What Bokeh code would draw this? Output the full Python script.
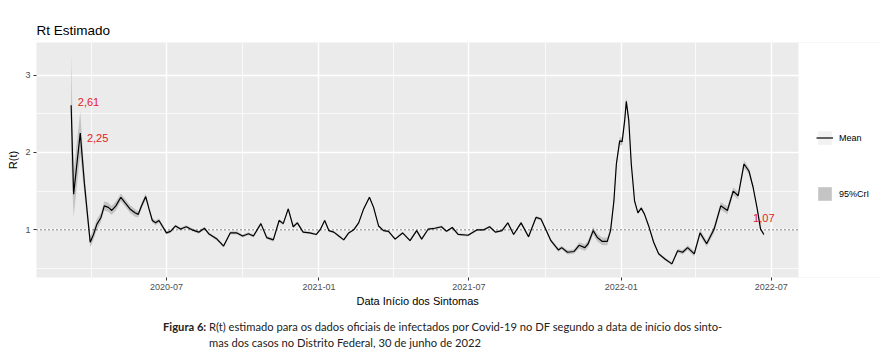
import pandas as pd
from bokeh.plotting import figure
from bokeh.layouts import column
from bokeh.models import (ColumnDataSource, Range1d, FixedTicker, DatetimeTickFormatter,
                          Legend, LegendItem, Div, BoxAnnotation, Title)
from bokeh.embed import file_html
from bokeh.resources import INLINE
from bokeh.core.properties import value

# ---------------- data ----------------
dates = [
    "2020-03-08", "2020-03-11", "2020-03-19", "2020-03-24", "2020-03-31", "2020-04-04",
    "2020-04-08", "2020-04-13", "2020-04-17", "2020-04-22", "2020-04-26", "2020-05-01",
    "2020-05-07", "2020-05-12", "2020-05-18", "2020-05-24", "2020-05-28", "2020-06-01",
    "2020-06-06", "2020-06-10", "2020-06-14", "2020-06-18", "2020-06-22", "2020-06-26",
    "2020-07-01", "2020-07-06", "2020-07-12", "2020-07-18", "2020-07-25", "2020-08-01",
    "2020-08-09", "2020-08-16", "2020-08-21", "2020-08-31", "2020-09-08", "2020-09-16",
    "2020-09-24", "2020-10-01", "2020-10-08", "2020-10-14", "2020-10-23", "2020-10-30",
    "2020-11-07", "2020-11-14", "2020-11-19", "2020-11-25", "2020-12-01", "2020-12-06",
    "2020-12-13", "2020-12-21", "2020-12-29", "2021-01-03", "2021-01-08", "2021-01-13",
    "2021-01-19", "2021-01-25", "2021-01-31", "2021-02-06", "2021-02-12", "2021-02-18",
    "2021-02-24", "2021-03-03", "2021-03-08", "2021-03-14", "2021-03-20", "2021-03-26",
    "2021-04-03", "2021-04-12", "2021-04-21", "2021-04-29", "2021-05-05", "2021-05-13",
    "2021-05-21", "2021-05-29", "2021-06-04", "2021-06-11", "2021-06-18", "2021-06-30",
    "2021-07-11", "2021-07-19", "2021-07-26", "2021-08-02", "2021-08-10", "2021-08-17",
    "2021-08-24", "2021-09-02", "2021-09-11", "2021-09-20", "2021-09-26", "2021-10-02",
    "2021-10-08", "2021-10-17", "2021-10-21", "2021-10-28", "2021-11-05", "2021-11-11",
    "2021-11-18", "2021-11-22", "2021-11-28", "2021-12-03", "2021-12-09", "2021-12-15",
    "2021-12-19", "2021-12-23", "2021-12-26", "2021-12-30", "2022-01-02", "2022-01-05",
    "2022-01-07", "2022-01-10", "2022-01-13", "2022-01-17", "2022-01-21", "2022-01-25",
    "2022-01-29", "2022-02-03", "2022-02-09", "2022-02-15", "2022-02-23", "2022-03-03",
    "2022-03-10", "2022-03-16", "2022-03-22", "2022-03-30", "2022-04-06", "2022-04-14",
    "2022-04-23", "2022-05-01", "2022-05-09", "2022-05-16", "2022-05-22", "2022-05-29",
    "2022-06-04", "2022-06-09", "2022-06-14", "2022-06-18", "2022-06-22",
]
rt_mean = [
    2.61, 1.46, 2.25, 1.60, 0.84, 0.94,
    1.07, 1.16, 1.31, 1.29, 1.25, 1.31,
    1.42, 1.35, 1.27, 1.22, 1.20, 1.31,
    1.43, 1.27, 1.12, 1.09, 1.12, 1.05,
    0.96, 0.98, 1.05, 1.01, 1.04, 1.00,
    0.97, 1.02, 0.95, 0.88, 0.79, 0.96,
    0.96, 0.92, 0.95, 0.92, 1.08, 0.90,
    0.87, 1.12, 1.08, 1.27, 1.04, 1.09,
    0.97, 0.96, 0.94, 1.01, 1.12, 0.99,
    0.97, 0.92, 0.87, 0.96, 1.00, 1.09,
    1.27, 1.42, 1.29, 1.05, 0.99, 0.98,
    0.88, 0.96, 0.86, 0.99, 0.88, 1.01,
    1.02, 1.04, 0.98, 1.03, 0.94, 0.93,
    1.00, 1.00, 1.04, 0.97, 0.99, 1.09,
    0.94, 1.09, 0.91, 1.16, 1.14, 1.00,
    0.86, 0.74, 0.77, 0.71, 0.72, 0.80,
    0.77, 0.82, 0.99, 0.90, 0.85, 0.85,
    0.99, 1.37, 1.85, 2.15, 2.14, 2.41,
    2.66, 2.41, 1.85, 1.37, 1.22, 1.28,
    1.20, 1.05, 0.84, 0.69, 0.62, 0.56,
    0.73, 0.71, 0.77, 0.69, 0.96, 0.82,
    1.01, 1.31, 1.25, 1.50, 1.44, 1.85,
    1.76, 1.55, 1.27, 1.01, 0.94,
]
ci_half = [
    0.70, 0.30, 0.28, 0.15, 0.07, 0.07,
    0.07, 0.06, 0.06, 0.06, 0.06, 0.06,
    0.05, 0.05, 0.05, 0.05, 0.04, 0.04,
    0.04, 0.03, 0.03, 0.03, 0.03, 0.03,
    0.02, 0.02, 0.02, 0.02, 0.02, 0.02,
    0.02, 0.02, 0.02, 0.02, 0.02, 0.02,
    0.02, 0.02, 0.02, 0.02, 0.02, 0.02,
    0.025, 0.02, 0.02, 0.02, 0.02, 0.02,
    0.015, 0.015, 0.015, 0.015, 0.015, 0.015,
    0.015, 0.015, 0.015, 0.015, 0.015, 0.015,
    0.015, 0.015, 0.015, 0.015, 0.015, 0.015,
    0.015, 0.015, 0.015, 0.015, 0.015, 0.015,
    0.015, 0.015, 0.015, 0.015, 0.015, 0.015,
    0.015, 0.015, 0.015, 0.015, 0.015, 0.015,
    0.015, 0.02, 0.02, 0.02, 0.02, 0.02,
    0.02, 0.025, 0.025, 0.03, 0.03, 0.04,
    0.045, 0.045, 0.05, 0.05, 0.05, 0.05,
    0.04, 0.04, 0.05, 0.05, 0.05, 0.05,
    0.05, 0.04, 0.03, 0.02, 0.02, 0.02,
    0.02, 0.02, 0.02, 0.02, 0.02, 0.02,
    0.025, 0.03, 0.03, 0.035, 0.04, 0.04,
    0.05, 0.05, 0.05, 0.05, 0.05, 0.05,
    0.04, 0.03, 0.02, 0.02, 0.02,
]

x_tick_labels = ["2020-07", "2021-01", "2021-07", "2022-01", "2022-07"]
x_minor_months = ["2020-04", "2020-10", "2021-04", "2021-10", "2022-04"]
y_ticks = [1, 2, 3]
y_minor_ticks = [0.5, 1.5, 2.5]
reference_rt = 1.0

label_dates = ["2020-03-16", "2020-03-27", "2022-06-09"]
label_y = [2.65, 2.19, 1.15]
label_text = ["2,61", "2,25", "1,07"]

title_text = "Rt Estimado"
x_title = "Data Início dos Sintomas"
y_title = "R(t)"
legend_labels = ["Mean", "95%CrI"]
caption_bold = "Figura 6:"
caption_line1 = ("R(t) estimado para os dados oficiais de infectados por Covid-19 no DF "
                 "segundo a data de início dos sinto-")
caption_line2 = "mas dos casos no Distrito Federal, 30 de junho de 2022"

# ---------------- layout constants (pixels) ----------------
FONT = "Liberation Sans"
PANEL_W = 762      # width of the grey panel
LEGEND_W = 82      # legend strip to the right of the panel (inside the frame)

# ---------------- build ----------------
t = pd.to_datetime(dates)
mean = pd.Series(rt_mean, dtype=float)
half = pd.Series(ci_half, dtype=float)
src = ColumnDataSource(dict(date=t.values, mean=mean.values,
                            lower=(mean - half).values, upper=(mean + half).values))

span_t = t.max() - t.min()
x0 = t.min() - span_t * 0.05            # panel start (ggplot 5% expansion)
x1 = t.max() + span_t * 0.05            # panel end
x_end = x1 + (x1 - x0) * (LEGEND_W / PANEL_W)   # frame continues under the legend


def ms(s):
    return pd.Timestamp(s).timestamp() * 1000.0


p = figure(width=880, height=312, x_axis_type="datetime",
           x_range=Range1d(x0.to_pydatetime(), x_end.to_pydatetime()),
           y_range=Range1d(0.384, 3.42),
           output_backend="svg", toolbar_location=None, title=title_text,
           min_border_left=36, min_border_right=0, min_border_top=42, min_border_bottom=35)

p.background_fill_color = "#EBEBEB"
p.border_fill_color = "white"
p.outline_line_color = None

p.title.text_font = FONT
p.title.text_font_size = "13.5px"
p.title.text_font_style = "normal"
p.title.text_color = "black"
p.title.align = "left"
p.title.offset = 0
p.title.standoff = 9

# grids / ticks
p.xaxis.ticker = FixedTicker(ticks=[ms(s + "-01") for s in x_tick_labels],
                             minor_ticks=[ms(s + "-01") for s in x_minor_months])
p.yaxis.ticker = FixedTicker(ticks=y_ticks, minor_ticks=y_minor_ticks)
fmt = "%Y-%m"
p.xaxis.formatter = DatetimeTickFormatter(milliseconds=fmt, seconds=fmt, minsec=fmt, minutes=fmt,
                                          hourmin=fmt, hours=fmt, days=fmt, months=fmt, years=fmt)
for g in (p.xgrid, p.ygrid):
    g.grid_line_color = "white"
    g.grid_line_width = 1.4
    g.minor_grid_line_color = "white"
    g.minor_grid_line_width = 0.7

for ax in (p.xaxis, p.yaxis):
    ax.axis_line_color = None
    ax.major_tick_line_color = "#333333"
    ax.major_tick_line_width = 1
    ax.major_tick_out = 3
    ax.major_tick_in = 0
    ax.minor_tick_line_color = None
    ax.major_label_text_color = "#4D4D4D"
    ax.major_label_text_font = FONT
    ax.major_label_text_font_size = "9px"
    ax.axis_label_text_font = FONT
    ax.axis_label_text_font_size = "11px"
    ax.axis_label_text_font_style = "normal"
    ax.axis_label_text_color = "black"

p.yaxis.axis_label = y_title
p.xaxis.major_label_standoff = 2
p.yaxis.major_label_standoff = 2
p.yaxis.axis_label_standoff = 3

# x-axis title centred under the grey panel
p.add_layout(Title(text=x_title, align="left", offset=320, standoff=0,
                   text_font=FONT, text_font_size="11px", text_font_style="normal",
                   text_color="black"), "below")

# glyphs
key_bg = p.varea(x="date", y1="lower", y2="upper", source=src, fill_color="#F2F2F2")
band = p.varea(x="date", y1="lower", y2="upper", source=src, fill_color="#C4C4C4")
mean_line = p.line(x="date", y="mean", source=src, line_color="black", line_width=1.2)

# dotted reference line at R(t) = 1 across the grey panel
ref_src = ColumnDataSource(dict(xs=[x0.to_pydatetime()], xe=[x1.to_pydatetime()],
                                y=[reference_rt]))
p.segment(x0="xs", y0="y", x1="xe", y1="y", source=ref_src,
          line_color="black", line_width=1, line_dash="1 3")

lab_src = ColumnDataSource(dict(date=pd.to_datetime(label_dates).values, y=label_y, text=label_text))
p.text(x="date", y="y", text="text", source=lab_src, text_color="#E41A1C",
       text_font=value(FONT), text_font_size="11px", text_baseline="middle", text_align="left")

# white strip right of the panel (legend area), drawn above all glyphs
p.add_layout(BoxAnnotation(left=x1.to_pydatetime(), fill_color="white", fill_alpha=1,
                           line_color=None, level="overlay"))

# legend (two keys, spaced apart), drawn after the white strip
legend = Legend(items=[LegendItem(label=legend_labels[0], renderers=[key_bg, mean_line]),
                       LegendItem(label=legend_labels[1], renderers=[band])],
                location=(PANEL_W + 18, 75), orientation="vertical",
                glyph_width=17, glyph_height=17, label_height=17, label_width=30,
                label_standoff=6, padding=0, margin=0, spacing=39,
                label_text_font=FONT, label_text_font_size="9px", label_text_color="black",
                label_text_baseline="middle",
                border_line_alpha=0, background_fill_alpha=0, level="overlay")
p.add_layout(legend)

# caption below the chart
caption_html = (
    '<div style="display:flex;">'
    f'<span style="font-weight:bold; white-space:pre;">{caption_bold} </span>'
    f'<span>{caption_line1}<br>{caption_line2}</span>'
    '</div>'
)
cap = Div(text=caption_html, width=880, height=51, margin=0,
          styles={"font-family": "Lato", "font-size": "11.2px", "color": "#222222",
                  "line-height": "16px", "padding-left": "163px", "padding-top": "7px",
                  "box-sizing": "border-box", "white-space": "nowrap"})

layout = column(p, cap, spacing=0)
open("out.html", "w").write(file_html(layout, INLINE))
